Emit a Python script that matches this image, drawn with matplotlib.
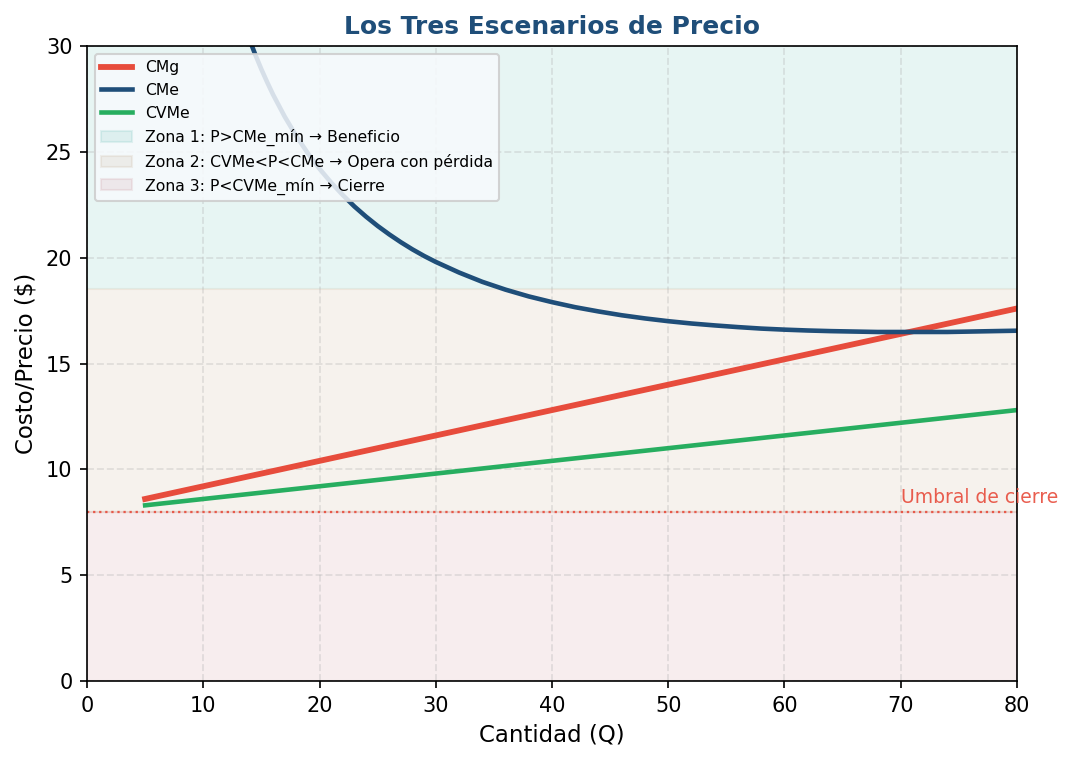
import matplotlib
matplotlib.use("Agg")
import matplotlib.pyplot as plt
from matplotlib.patches import Patch

# Data
q_lin = [5, 80]
cmg = [8.6, 17.6]
cvme = [8.3, 12.8]

q_cme = [12, 12.5, 13, 13.5, 14, 14.5, 15, 15.5, 16, 17, 18, 19, 20, 21, 22, 23,
         24, 25, 26, 27, 28, 29, 30, 32, 34, 36, 38, 40, 42, 44, 46, 48, 50, 52,
         54, 56, 58, 60, 62, 64, 66, 68, 70, 72, 74, 76, 78, 80]
cme = [33.7, 32.75, 31.86, 31.03, 30.27, 29.56, 28.9, 28.29, 27.71, 26.67,
       25.75, 24.93, 24.2, 23.55, 22.96, 22.42, 21.94, 21.5, 21.1, 20.73, 20.39,
       20.08, 19.8, 19.3, 18.86, 18.49, 18.17, 17.9, 17.66, 17.46, 17.28, 17.13,
       17.0, 16.89, 16.80, 16.72, 16.65, 16.6, 16.56, 16.53, 16.51, 16.49, 16.49,
       16.49, 16.49, 16.51, 16.53, 16.55]

zone_edges = [0, 8, 18.5, 30]
umbral = 8
xlim = (0, 80)
ylim = (0, 30)

z1, z2, z3 = '#16a08f', '#8f5d1e', '#9b1e2b'

fig = plt.figure(figsize=(1073 / 150, 762 / 150), dpi=150)
ax = fig.add_axes([0.0811, 0.1063, 0.8667, 0.8333])

ax.axhspan(zone_edges[2], zone_edges[3], facecolor=z1, edgecolor='none', alpha=0.1)
ax.axhspan(zone_edges[1], zone_edges[2], color=z2, alpha=0.08)
ax.axhspan(zone_edges[0], zone_edges[1], color=z3, alpha=0.08)

ax.plot(q_lin, cmg, color='#e74c3c', lw=2.8, label='CMg')
ax.plot(q_cme, cme, color='#1f4e79', lw=2.2, label='CMe')
ax.plot(q_lin, cvme, color='#27ae60', lw=2.2, label='CVMe')

ax.axhline(umbral, color='#e74c3c', ls=':', lw=1.1, alpha=0.9)
ax.text(70, umbral + 0.4, 'Umbral de cierre', color='#e74c3c', fontsize=9,
        alpha=0.9)

ax.set_xlim(*xlim)
ax.set_ylim(*ylim)
ax.grid(True, ls='--', alpha=0.3, lw=0.9)
ax.set_xlabel('Cantidad (Q)', fontsize=11)
ax.set_ylabel('Costo/Precio ($)', fontsize=11)
ax.set_title('Los Tres Escenarios de Precio', fontsize=12, fontweight='bold',
             color='#1f4e79')

handles, labels = ax.get_legend_handles_labels()
handles += [
    Patch(facecolor=z1, edgecolor=z1, alpha=0.1),
    Patch(facecolor=z2, edgecolor=z2, alpha=0.08),
    Patch(facecolor=z3, edgecolor=z3, alpha=0.08),
]
labels += ['Zona 1: P>CMe_mín → Beneficio',
           'Zona 2: CVMe<P<CMe → Opera con pérdida',
           'Zona 3: P<CVMe_mín → Cierre']
leg = ax.legend(handles, labels, loc='upper left', fontsize=7.5,
                facecolor='#f7fafd', framealpha=0.85, labelspacing=0.5)

fig.savefig('out.png', dpi=150)
